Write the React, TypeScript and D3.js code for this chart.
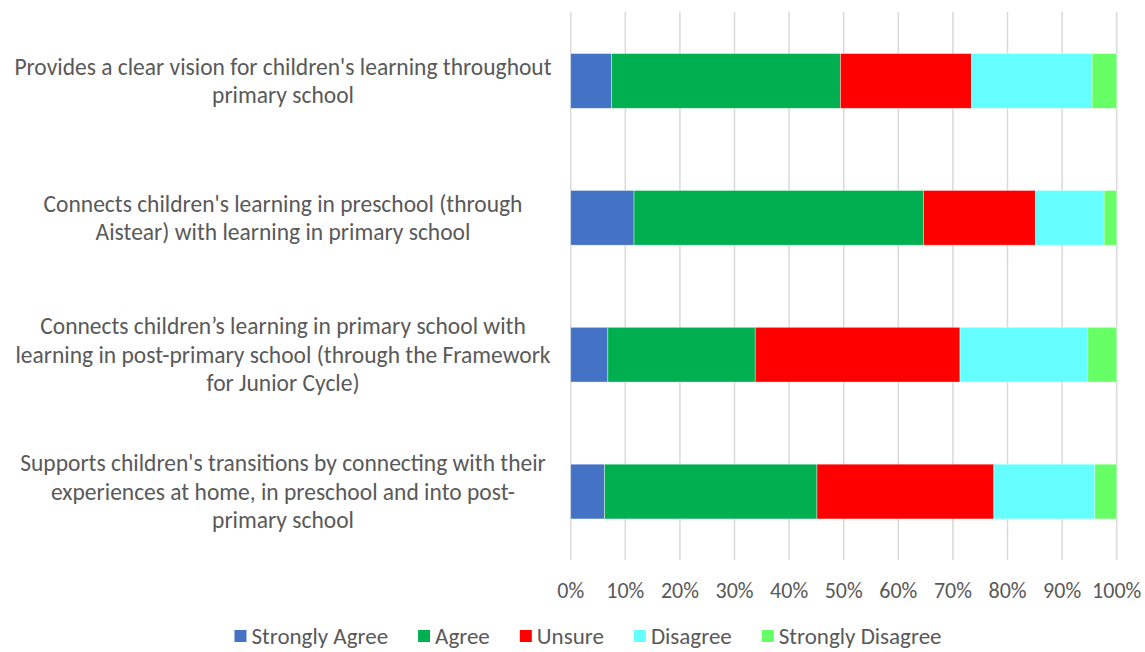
import React, { useEffect, useRef } from "react";
import * as d3 from "d3";

const categories: string[][] = [
  ["Provides a clear vision for children's learning throughout", "primary school"],
  ["Connects children's learning in preschool (through", "Aistear) with learning in primary school"],
  ["Connects children\u2019s learning in primary school with", "learning in post-primary school (through the Framework", "for Junior Cycle)"],
  ["Supports children's transitions by connecting with their", "experiences at home, in preschool and into post-", "primary school"],
];

const seriesNames = ["Strongly Agree", "Agree", "Unsure", "Disagree", "Strongly Disagree"];
const seriesColors = ["#4472C4", "#00B050", "#FF0000", "#66FFFF", "#66FF66"];

const stronglyAgree = [7.5, 11.6, 6.8, 6.2];
const agree = [41.9, 53.0, 27.0, 38.9];
const unsure = [24.0, 20.5, 37.5, 32.4];
const disagree = [22.1, 12.6, 23.4, 18.5];
const stronglyDisagree = [4.5, 2.3, 5.3, 4.0];

const tickValues = [0, 10, 20, 30, 40, 50, 60, 70, 80, 90, 100];

const W = 1145;
const H = 652;
const FONT = "Carlito, Calibri, Lato, sans-serif";

export default function App() {
  const ref = useRef<SVGSVGElement | null>(null);

  useEffect(() => {
    const svg = d3.select(ref.current);
    svg.selectAll("*").remove();

    const seriesValues = [stronglyAgree, agree, unsure, disagree, stronglyDisagree];
    const rows = categories.map((_, i) => {
      const vals = seriesValues.map((s) => s[i]);
      const total = d3.sum(vals);
      let acc = 0;
      return vals.map((v, k) => {
        const x0 = (acc / total) * 100;
        acc += v;
        const x1 = (acc / total) * 100;
        return { x0, x1, k };
      });
    });

    const x = d3.scaleLinear().domain([0, 100]).range([570.7, 1116.7]);
    const y = d3
      .scaleBand<number>()
      .domain(d3.range(categories.length))
      .range([12.5, 560])
      .paddingInner(0.6)
      .paddingOuter(0.3);

    // gridlines
    svg
      .append("g")
      .selectAll("line")
      .data(tickValues)
      .join("line")
      .attr("x1", (d) => x(d))
      .attr("x2", (d) => x(d))
      .attr("y1", 12)
      .attr("y2", 560)
      .attr("stroke", "#d9d9d9")
      .attr("stroke-width", 1.5);

    // bars
    const g = svg.append("g");
    rows.forEach((segs, i) => {
      g.selectAll(null)
        .data(segs)
        .join("rect")
        .attr("x", (d) => x(d.x0))
        .attr("width", (d) => x(d.x1) - x(d.x0))
        .attr("y", y(i)!)
        .attr("height", y.bandwidth())
        .attr("fill", (d) => seriesColors[d.k])
        .attr("stroke", "#ffffff")
        .attr("stroke-opacity", 0.5)
        .attr("stroke-width", 0.75);
    });

    // category labels
    const lineH = 28.5;
    categories.forEach((lines, i) => {
      const cy = y(i)! + y.bandwidth() / 2;
      const startY = cy - ((lines.length - 1) * lineH) / 2;
      const t = svg
        .append("text")
        .attr("font-family", FONT)
        .attr("font-size", 23.5)
        .attr("fill", "#595959")
        .attr("text-anchor", "middle");
      lines.forEach((ln, j) => {
        t.append("tspan")
          .attr("x", 283)
          .attr("y", startY + j * lineH)
          .attr("dy", "0.35em")
          .text(ln);
      });
    });

    // tick labels
    svg
      .append("g")
      .selectAll("text")
      .data(tickValues)
      .join("text")
      .attr("x", (d) => x(d))
      .attr("y", 590)
      .attr("dy", "0.35em")
      .attr("text-anchor", "middle")
      .attr("font-family", FONT)
      .attr("font-size", 22)
      .attr("fill", "#595959")
      .text((d) => `${d}%`);

    // legend
    const legend = svg.append("g");
    const items = seriesNames.map((name, k) => {
      const gi = legend.append("g");
      gi.append("rect")
        .attr("x", 0)
        .attr("y", -6)
        .attr("width", 12)
        .attr("height", 12)
        .attr("fill", seriesColors[k]);
      const tx = gi
        .append("text")
        .attr("x", 17)
        .attr("y", 0)
        .attr("dy", "0.35em")
        .attr("font-family", FONT)
        .attr("font-size", 23)
        .attr("fill", "#595959")
        .text(name);
      const w = 17 + (tx.node() as SVGTextElement).getComputedTextLength();
      return { gi, w };
    });
    const gap = 30;
    const totalW = d3.sum(items, (d) => d.w) + gap * (items.length - 1);
    let cx = 588 - totalW / 2;
    items.forEach((it) => {
      it.gi.attr("transform", `translate(${cx},636)`);
      cx += it.w + gap;
    });
  }, []);

  return (
    <svg
      ref={ref}
      width={W}
      height={H}
      style={{ position: "absolute", left: 0, top: 0, background: "#fff" }}
    />
  );
}
